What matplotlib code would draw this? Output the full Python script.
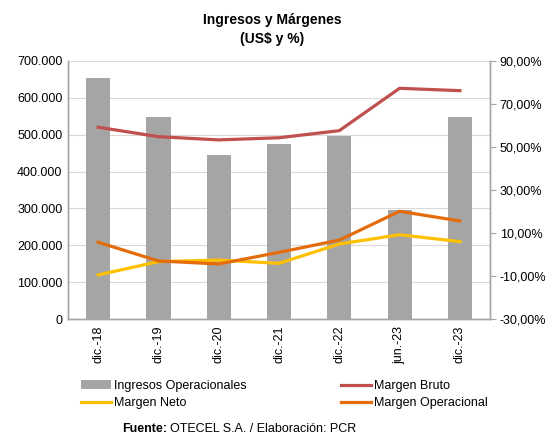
import matplotlib
matplotlib.use("Agg")
import matplotlib.pyplot as plt
from matplotlib.ticker import FuncFormatter, MultipleLocator
from matplotlib.lines import Line2D
from matplotlib.patches import Patch

plt.rcParams['font.family'] = ['Liberation Sans', 'DejaVu Sans']

categories = ["dic.-18", "dic.-19", "dic.-20", "dic.-21", "dic.-22", "jun.-23", "dic.-23"]
ingresos = [653000, 549000, 446000, 474000, 496000, 296000, 549000]
margen_bruto = [59.2, 54.8, 53.3, 54.3, 57.6, 77.3, 76.2]
margen_operacional = [5.7, -3.0, -4.4, 1.0, 6.7, 20.1, 15.6]
margen_neto = [-9.5, -3.3, -2.6, -4.1, 4.9, 9.2, 6.0]
pct_ticks = [-30, -10, 10, 30, 50, 70, 90]

C_BAR = "#A5A5A5"
C_BRUTO = "#C0504D"
C_OPER = "#E46C0A"
C_NETO = "#FFC000"
C_AXIS = "#A6A6A6"
C_GRID = "#D9D9D9"
FS = 9

fig = plt.figure(figsize=(5.45, 4.41), dpi=100)
ax = fig.add_axes([0.1248, 0.2766, 0.7743, 0.5851])
ax2 = ax.twinx()

x = range(len(categories))
ax.bar(x, ingresos, width=0.4, color=C_BAR, zorder=2)
ax.set_ylim(0, 700000)
ax.set_xlim(-0.5, len(categories) - 0.5)
ax.yaxis.set_major_locator(MultipleLocator(100000))
ax.yaxis.set_major_formatter(FuncFormatter(lambda v, p: f"{int(v):,}".replace(",", ".")))
ax.grid(axis="y", color=C_GRID, linewidth=0.8, zorder=0)
ax.set_axisbelow(True)
ax.set_xticks(list(x))
ax.set_xticklabels(categories, rotation=90, fontsize=FS)
ax.tick_params(axis="y", length=0, labelsize=FS, pad=4)
ax.tick_params(axis="x", length=0, pad=5)

ax2.plot(x, margen_bruto, color=C_BRUTO, linewidth=2.3, zorder=3)
ax2.plot(x, margen_neto, color=C_NETO, linewidth=2.3, zorder=3)
ax2.plot(x, margen_operacional, color=C_OPER, linewidth=2.3, zorder=3)
ax2.set_ylim(pct_ticks[0], pct_ticks[-1])
ax2.set_yticks(pct_ticks)
ax2.yaxis.set_major_formatter(FuncFormatter(lambda v, p: f"{v:.2f}".replace(".", ",") + "%"))
ax2.tick_params(axis="y", length=4, color=C_AXIS, labelsize=FS, pad=3)

for a in (ax, ax2):
    a.spines["top"].set_visible(False)
    for s in ("left", "right", "bottom"):
        a.spines[s].set_color(C_AXIS)
        a.spines[s].set_linewidth(1.0)

fig.text(0.5, 0.955, "Ingresos y Márgenes", ha="center", va="center",
         fontsize=10, fontweight="bold")
fig.text(0.5, 0.912, "(US$ y %)", ha="center", va="center",
         fontsize=10, fontweight="bold")

handles = [
    Patch(facecolor=C_BAR, edgecolor="none"),
    Line2D([], [], color=C_NETO, linewidth=2.3),
    Line2D([], [], color=C_BRUTO, linewidth=2.3),
    Line2D([], [], color=C_OPER, linewidth=2.3),
]
labels = ["Ingresos Operacionales", "Margen Neto", "Margen Bruto", "Margen Operacional"]
fig.legend(handles, labels, ncol=2, loc="center", bbox_to_anchor=(0.522, 0.105),
           frameon=False, fontsize=FS, handlelength=2.4, handletextpad=0.2,
           columnspacing=7.6, labelspacing=0.4)

# Source line: bold label followed by plain text
src = fig.text(0.224, 0.014, "Fuente:", ha="left", va="bottom", fontsize=FS, fontweight="bold")
renderer = fig.canvas.get_renderer()
bb = src.get_window_extent(renderer=renderer)
x_next = (bb.x1 + 3) / fig.bbox.width
fig.text(x_next, 0.014, "OTECEL S.A. / Elaboración: PCR", ha="left", va="bottom", fontsize=FS)

fig.savefig("out.png", dpi=100)
